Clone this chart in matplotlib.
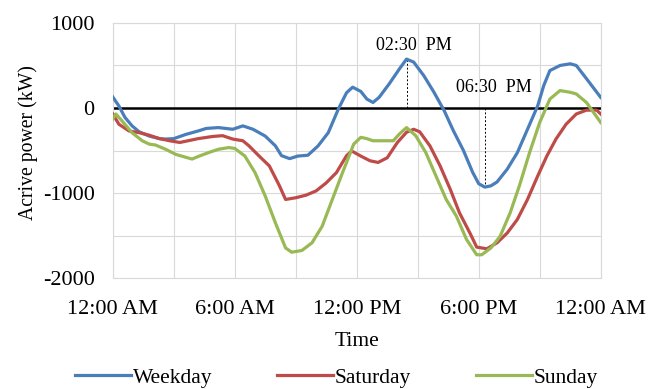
import matplotlib.pyplot as plt
from matplotlib.ticker import MultipleLocator

plt.rcParams['font.family'] = ['Liberation Serif', 'DejaVu Serif']
plt.rcParams['axes.unicode_minus'] = False

# hours since midnight and active power (kW)
weekday_h = [0, 0.3, 0.6, 0.95, 1.3, 1.8, 2.3, 2.6, 3.0, 3.6, 4.2, 4.6, 5.2, 5.9, 6.4,
             6.9, 7.5, 8.0, 8.3, 8.7, 9.1, 9.6, 10.1, 10.6, 11.1, 11.5, 11.8, 12.2,
             12.5, 12.8, 13.1, 13.6, 14.1, 14.45, 14.8, 15.3, 15.8, 16.3, 16.75,
             17.25, 17.7, 18.0, 18.3, 18.6, 18.9, 19.4, 19.9, 20.4, 20.9, 21.2,
             21.5, 22.0, 22.5, 22.8, 23.3, 24]
weekday_kw = [130, 25, -110, -210, -280, -330, -360, -365, -360, -310, -270, -240,
              -230, -250, -210, -250, -330, -445, -560, -595, -565, -555, -445,
              -290, -10, 180, 245, 195, 105, 65, 125, 285, 460, 575, 540, 380, 185,
              -30, -265, -500, -755, -890, -930, -915, -870, -720, -525, -250, 25,
              265, 440, 500, 520, 500, 345, 125]

saturday_h = [0, 0.3, 0.8, 1.3, 1.8, 2.3, 2.8, 3.3, 3.7, 4.2, 4.9, 5.4, 5.9, 6.4,
              6.7, 7.2, 7.7, 8.2, 8.5, 9.0, 9.5, 10.0, 10.5, 11.0, 11.5, 11.75,
              12.2, 12.65, 13.05, 13.5, 14.0, 14.45, 14.8, 15.1, 15.6, 16.1, 16.6,
              17.05, 17.6, 17.9, 18.4, 18.9, 19.4, 19.9, 20.4, 20.9, 21.35, 21.8,
              22.3, 22.8, 23.3, 23.8, 24]
saturday_kw = [-70, -190, -270, -290, -320, -360, -385, -405, -385, -360, -335,
               -325, -365, -385, -445, -565, -680, -915, -1075, -1055, -1025,
               -975, -880, -760, -560, -505, -565, -620, -640, -585, -405, -285,
               -250, -280, -445, -680, -955, -1230, -1485, -1635, -1655, -1585,
               -1470, -1310, -1075, -800, -565, -365, -190, -70, -25, -25, -70]

sunday_h = [0, 0.15, 0.45, 0.95, 1.45, 1.8, 2.1, 2.6, 3.1, 3.6, 3.9, 4.2, 4.7,
            5.2, 5.7, 6.0, 6.5, 7.0, 7.5, 8.0, 8.5, 8.8, 9.3, 9.8, 10.3, 10.8,
            11.3, 11.5, 11.85, 12.2, 12.5, 12.8, 13.3, 13.8, 14.1, 14.45, 14.9,
            15.4, 15.9, 16.4, 16.9, 17.4, 17.9, 18.15, 18.6, 19.05, 19.55, 20.0,
            20.5, 21.0, 21.5, 22.0, 22.5, 22.8, 23.3, 24]
sunday_kw = [-130, -70, -150, -290, -385, -425, -435, -485, -545, -580, -600,
             -570, -525, -485, -465, -475, -565, -760, -1035, -1350, -1645, -1695,
             -1675, -1585, -1390, -1075, -760, -640, -425, -345, -360, -385, -385,
             -385, -305, -230, -325, -525, -800, -1075, -1270, -1545, -1725, -1725,
             -1645, -1510, -1230, -915, -525, -170, 105, 205, 185, 165, 65, -170]

xtick_h = [0, 6, 12, 18, 24]
xtick_labels = ['12:00 AM', '6:00 AM', '12:00 PM', '6:00 PM', '12:00 AM']
yticks = [1000, 0, -1000, -2000]

peak_h, peak_label = 14.45, '02:30  PM'
dip_h, dip_label = 18.3, '06:30  PM'

fig = plt.figure(figsize=(6.48, 3.89), dpi=100)
ax = fig.add_axes([0.174, 0.285, 0.753, 0.656])

ax.plot(weekday_h, weekday_kw, color='#4A7EBB', lw=2.3, label='Weekday', zorder=3)
ax.plot(saturday_h, saturday_kw, color='#BE4B48', lw=2.3, label='Saturday', zorder=3)
ax.plot(sunday_h, sunday_kw, color='#98B954', lw=2.3, label='Sunday', zorder=3)

ax.axhline(0, color='black', lw=1.8, zorder=2)

# dashed markers at the weekday peak and dip
ax.plot([peak_h, peak_h], [0, max(weekday_kw)], color='black', lw=0.7, ls=(0, (2, 2)), zorder=2)
ax.plot([dip_h, dip_h], [0, min(weekday_kw)], color='black', lw=0.7, ls=(0, (2, 2)), zorder=2)
ax.text(peak_h + 0.35, 730, peak_label, ha='center', va='center', fontsize=13)
ax.text(dip_h + 0.45, 247, dip_label, ha='center', va='center', fontsize=13)

ax.set_xlim(0, 24)
ax.set_ylim(-2000, 1000)
ax.set_xticks(xtick_h)
ax.set_xticklabels(xtick_labels)
ax.xaxis.set_minor_locator(MultipleLocator(3))
ax.set_yticks(yticks)
ax.yaxis.set_minor_locator(MultipleLocator(500))
ax.tick_params(which='both', length=0, labelsize=16)
ax.tick_params(axis='x', pad=16)
ax.tick_params(axis='y', pad=13)
ax.grid(which='both', color='#D9D9D9', lw=0.8)
ax.set_axisbelow(True)
for s in ax.spines.values():
    s.set_color('#D9D9D9')

ax.set_xlabel('Time', fontsize=15.5, labelpad=9)
ax.set_ylabel('Acrive power (kW)', fontsize=14.2)
ax.yaxis.set_label_coords(-0.153, 0.533)

fig.legend(loc='center', bbox_to_anchor=(0.519, 0.029), ncol=3, frameon=False,
           fontsize=15.5, handlelength=2.6, columnspacing=3.0, handletextpad=0.1,
           borderpad=0)

fig.savefig('out.png', dpi=100)
